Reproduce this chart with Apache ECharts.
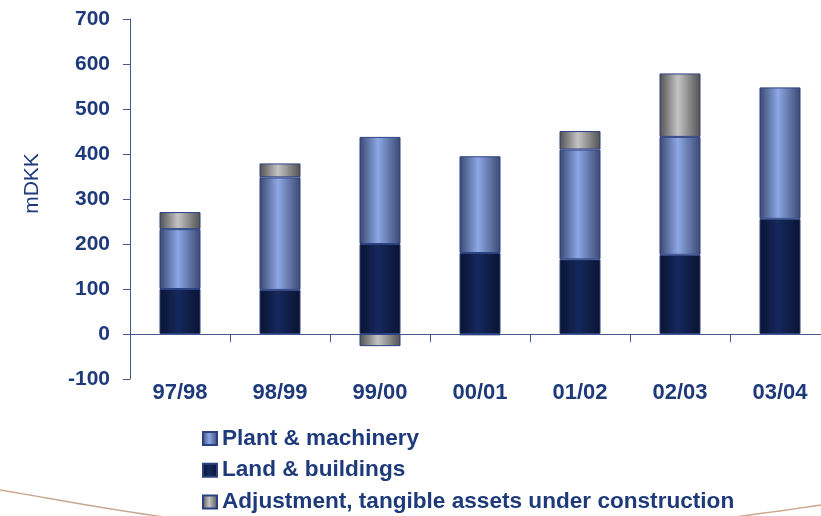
<!DOCTYPE html>
<html>
<head>
<meta charset="utf-8">
<script src="https://cdn.jsdelivr.net/npm/echarts@6/dist/echarts.min.js"></script>
<style>
  html, body { margin: 0; padding: 0; background: #ffffff; }
  #chart { width: 821px; height: 516px; }
</style>
</head>
<body>
<div id="chart"></div>
<script>
// Fiscal years on the category axis
const categories = ['97/98', '98/99', '99/00', '00/01', '01/02', '02/03', '03/04'];

// Investments in tangible assets, mDKK
const landBuildings = [100, 98, 200, 180, 166, 176, 256];
const plantMachinery = [133, 250, 238, 215, 244, 262, 292];
const adjustmentConstruction = [38, 31, -27, -3, 41, 141, null];

// Legend entries, top to bottom
const legendNames = ['Plant & machinery', 'Land & buildings', 'Adjustment, tangible assets under construction'];

// Value axis range
const yMin = -100;
const yMax = 700;
const yStep = 100;

const textColor = '#1e3a7b';
const axisColor = '#45598f';
const fontFamily = '"Liberation Sans", Arial, sans-serif';

// Cylinder-like shading: dark edges, light centre
function shade(edge, mid) {
  return new echarts.graphic.LinearGradient(0, 0, 1, 0, [
    { offset: 0, color: edge },
    { offset: 0.45, color: mid },
    { offset: 1, color: edge }
  ]);
}

const chart = echarts.init(document.getElementById('chart'), null, { renderer: 'canvas' });

const barCommon = {
  type: 'bar',
  stack: 'total',
  barWidth: 41,
  emphasis: { disabled: true }
};

// One single-row legend per entry so the rows stack neatly under the plot
const legends = legendNames.map(function (name, i) {
  return {
    orient: 'horizontal',
    left: 202,
    top: 427 + i * 31.7,
    padding: 0,
    itemWidth: 14,
    itemHeight: 13,
    icon: 'rect',
    selectedMode: false,
    data: [name],
    textStyle: { color: textColor, fontSize: 22.6, fontWeight: 'bold', fontFamily: fontFamily }
  };
});

chart.setOption({
  animation: false,
  backgroundColor: '#ffffff',
  textStyle: { fontFamily: fontFamily },
  // the last category band runs slightly past the right edge of the canvas
  grid: { left: 130, width: 700, top: 19, bottom: 137, containLabel: false, outerBoundsMode: 'none' },
  legend: legends,
  xAxis: {
    type: 'category',
    data: categories,
    axisLine: { onZero: true, lineStyle: { color: axisColor, width: 1 } },
    axisTick: { show: true, length: 8, lineStyle: { color: axisColor } },
    axisLabel: { margin: 3, color: textColor, fontSize: 22, fontWeight: 'bold', fontFamily: fontFamily },
    splitLine: { show: false }
  },
  yAxis: {
    type: 'value',
    min: yMin,
    max: yMax,
    interval: yStep,
    name: 'mDKK',
    nameLocation: 'middle',
    nameGap: 87,
    nameTextStyle: { color: textColor, fontSize: 21, fontFamily: fontFamily, padding: [0, 0, 0, 31] },
    axisLine: { show: true, lineStyle: { color: axisColor, width: 1 } },
    axisTick: { show: true, length: 7, lineStyle: { color: axisColor } },
    axisLabel: { margin: 20, color: textColor, fontSize: 21, fontWeight: 'bold', fontFamily: fontFamily },
    splitLine: { show: false }
  },
  series: [
    Object.assign({}, barCommon, {
      name: 'Land & buildings',
      data: landBuildings,
      itemStyle: { color: shade('#0a1430', '#15285e'), borderColor: '#2c4182', borderWidth: 1 }
    }),
    Object.assign({}, barCommon, {
      name: 'Plant & machinery',
      data: plantMachinery,
      itemStyle: { color: shade('#3a4870', '#8ca8e6'), borderColor: '#2c4182', borderWidth: 1 }
    }),
    Object.assign({}, barCommon, {
      name: 'Adjustment, tangible assets under construction',
      data: adjustmentConstruction,
      itemStyle: { color: shade('#505050', '#c4c4c4'), borderColor: '#2c4182', borderWidth: 1 }
    })
  ],
  graphic: [
    {
      type: 'bezierCurve',
      silent: true,
      shape: { x1: 0, y1: 490, x2: 165, y2: 517, cpx1: 60, cpy1: 500, cpx2: 110, cpy2: 510 },
      style: { stroke: '#c9a88f', lineWidth: 1.5, fill: null }
    },
    {
      type: 'bezierCurve',
      silent: true,
      shape: { x1: 735, y1: 517, x2: 821, y2: 505, cpx1: 765, cpy1: 513, cpx2: 795, cpy2: 509 },
      style: { stroke: '#c9a88f', lineWidth: 1.5, fill: null }
    }
  ]
});
</script>
</body>
</html>
